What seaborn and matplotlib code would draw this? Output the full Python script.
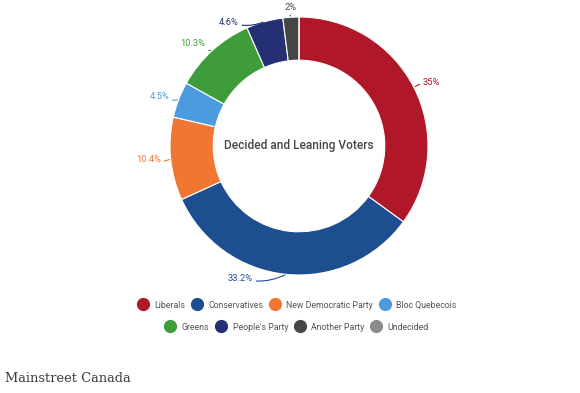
import numpy as np
import matplotlib
matplotlib.use("Agg")
import matplotlib.pyplot as plt
from matplotlib.lines import Line2D
import seaborn as sns

parties = ["Liberals", "Conservatives", "New Democratic Party", "Bloc Quebecois",
           "Greens", "People's Party", "Another Party", "Undecided"]
shares = [35, 33.2, 10.4, 4.5, 10.3, 4.6, 2, 0]
share_labels = ["35%", "33.2%", "10.4%", "4.5%", "10.3%", "4.6%", "2%", ""]
colors = ["#B0182A", "#1D4E8F", "#F07632", "#4C9BDF",
          "#3E9C3A", "#252F74", "#464646", "#8C8C8C"]

center_title = "Decided and Leaning Voters"
source_text = "Mainstreet Canada"

# extra nudges (pixels) for labels moved to avoid crowding
label_shift = {"Conservatives": (-32, 6), "People's Party": (-23, -10)}

sns.set_theme(style="white")
plt.rcParams["font.family"] = ["Roboto", "DejaVu Sans"]

fig = plt.figure(figsize=(5.8, 3.93), dpi=100)
W, H = 580, 393
cx, cy, r = 299, 146, 129
ax = fig.add_axes([(cx - r) / W, (H - cy - r) / H, 2 * r / W, 2 * r / H])

wedges, _ = ax.pie(shares, colors=colors, startangle=90, counterclock=False,
                   wedgeprops=dict(width=0.335, edgecolor="white", linewidth=0.8))
ax.set_xlim(-1, 1)
ax.set_ylim(-1, 1)
ax.set_aspect("auto")
ax.axis("off")

ax.text(0, 0, center_title, ha="center", va="center", fontsize=8.6,
        fontweight="medium", color="#444444")

# outside labels with short leader lines
for w, name, lab, col in zip(wedges, parties, share_labels, colors):
    if not lab:
        continue
    phi = np.deg2rad((w.theta1 + w.theta2) / 2)
    x, y = np.cos(phi), np.sin(phi)
    dx, dy = 10 * x, 10 * y
    sx, sy = label_shift.get(name, (0, 0))
    if x > 0.08:
        ha = "left"
    elif x < -0.08:
        ha = "right"
    else:
        ha = "center"
    ax.annotate(lab, xy=(x, y), xytext=(dx + sx, dy + sy), textcoords="offset pixels",
                ha=ha, va="center", fontsize=6.7, color=col,
                arrowprops=dict(arrowstyle="-", color=col, lw=0.8,
                                shrinkA=0, shrinkB=1,
                                connectionstyle="arc3,rad=0.2"))

# legend in two centred rows
def handles(idx):
    return [Line2D([], [], marker="o", linestyle="", markersize=8.5,
                   markerfacecolor=colors[i], markeredgecolor=colors[i],
                   label=parties[i]) for i in idx]

leg_kw = dict(loc="center", ncol=4, frameon=False, fontsize=6.3, handletextpad=0.7,
              columnspacing=0.75, handlelength=1.2, labelcolor="#555555")
fig.legend(handles=handles(range(0, 4)), bbox_to_anchor=(297 / W, 1 - 305 / H), **leg_kw)
fig.legend(handles=handles(range(4, 8)), bbox_to_anchor=(297 / W, 1 - 327 / H), **leg_kw)

fig.text(5 / W, 1 - 378 / H, source_text, ha="left", va="center",
         fontsize=9.4, family="DejaVu Serif", color="#3a3a3a")

fig.savefig("out.png", dpi=100, facecolor="white")
